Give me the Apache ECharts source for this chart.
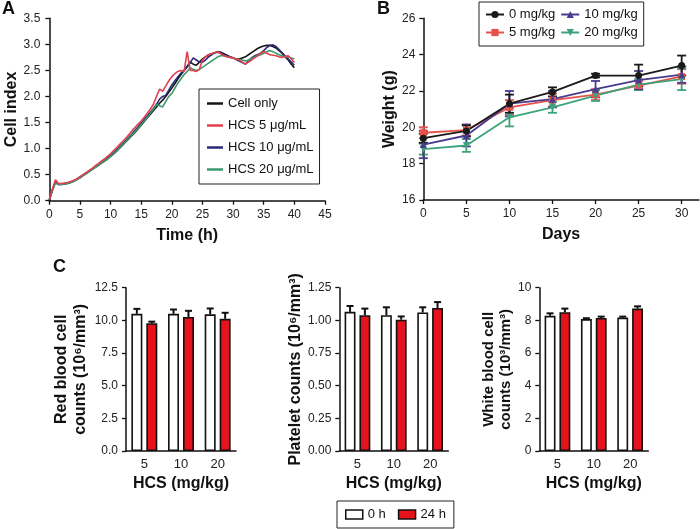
<!DOCTYPE html>
<html><head><meta charset="utf-8">
<script src="https://cdn.jsdelivr.net/npm/echarts@6/dist/echarts.min.js"></script>
<style>html,body{margin:0;padding:0;background:#fff}#c{width:700px;height:529px}</style>
</head><body><div id="c"></div>
<script>
// ---------- Panel A: cell index vs time ----------
const timeA = [0,0.5,1,1.5,2,2.5,3,3.5,4,4.5,5,5.5,6,6.5,7,7.5,8,8.5,9,9.5,10,10.5,11,11.5,12,12.5,13,13.5,14,14.5,15,15.5,16,16.5,17,17.5,18,18.5,19,19.5,20,20.5,21,21.5,22,22.5,23,23.5,24,24.5,25,25.5,26,26.5,27,27.5,28,28.5,29,29.5,30,30.5,31,31.5,32,32.5,33,33.5,34,34.5,35,35.5,36,36.5,37,37.5,38,38.5,39,39.5,40];
const cellOnly = [0.02,0.2,0.36,0.32,0.32,0.33,0.34,0.36,0.38,0.41,
0.44,0.48,0.52,0.56,0.6,0.64,0.68,0.72,0.76,0.8,
0.85,0.9,0.95,1.01,1.07,1.13,1.19,1.25,1.31,1.38,
1.45,1.52,1.59,1.66,1.73,1.8,1.87,1.93,2.0,2.08,
2.16,2.25,2.34,2.42,2.5,2.58,2.66,2.62,2.6,2.66,
2.72,2.76,2.8,2.82,2.84,2.86,2.85,2.82,2.79,2.76,
2.74,2.72,2.72,2.74,2.76,2.8,2.84,2.88,2.92,2.95,
2.97,2.98,2.98,2.96,2.93,2.88,2.83,2.76,2.7,2.62,
2.55];
const hcs5 = [0.02,0.22,0.4,0.33,0.33,0.34,0.35,0.37,0.39,0.42,
0.46,0.5,0.54,0.58,0.62,0.67,0.71,0.76,0.8,0.85,
0.9,0.96,1.02,1.08,1.14,1.2,1.27,1.34,1.41,1.47,
1.53,1.6,1.68,1.76,1.85,2.0,2.14,2.1,2.2,2.3,
2.38,2.44,2.48,2.5,2.48,2.86,2.5,2.5,2.48,2.52,
2.7,2.76,2.8,2.82,2.84,2.86,2.82,2.78,2.76,2.75,
2.74,2.72,2.7,2.66,2.62,2.66,2.7,2.74,2.78,2.83,
2.86,2.83,2.8,2.79,2.78,2.76,2.75,2.77,2.78,2.72,
2.65];
const hcs10 = [0.02,0.2,0.36,0.31,0.31,0.32,0.33,0.35,0.38,0.41,
0.45,0.49,0.53,0.57,0.61,0.65,0.69,0.73,0.77,0.82,
0.87,0.92,0.98,1.04,1.1,1.16,1.22,1.28,1.35,1.42,
1.49,1.56,1.63,1.7,1.77,1.85,1.95,2.0,2.02,2.12,
2.22,2.3,2.38,2.45,2.5,2.56,2.65,2.74,2.7,2.66,
2.66,2.7,2.76,2.8,2.84,2.85,2.83,2.8,2.78,2.76,
2.74,2.71,2.68,2.65,2.62,2.68,2.74,2.78,2.8,2.83,
2.88,2.94,2.98,2.99,2.96,2.9,2.84,2.78,2.72,2.66,
2.6];
const hcs20 = [0.02,0.2,0.34,0.31,0.31,0.32,0.33,0.35,0.37,0.4,
0.44,0.48,0.52,0.56,0.6,0.64,0.68,0.72,0.76,0.8,
0.85,0.9,0.96,1.02,1.08,1.14,1.2,1.26,1.32,1.39,
1.46,1.53,1.6,1.68,1.76,1.84,1.82,1.8,1.9,2.0,
2.06,2.16,2.26,2.34,2.42,2.48,2.55,2.52,2.5,2.52,
2.56,2.6,2.64,2.68,2.72,2.76,2.78,2.78,2.76,2.75,
2.74,2.72,2.71,2.7,2.68,2.7,2.73,2.76,2.78,2.8,
2.83,2.86,2.88,2.86,2.83,2.8,2.78,2.76,2.76,2.74,
2.72];
const namesA = ['Cell only','HCS 5 μg/mL','HCS 10 μg/mL','HCS 20 μg/mL'];

// ---------- Panel B: body weight ----------
const daysB = [0,5,10,15,20,25,30];
const w0 = [19.4,19.8,21.3,21.95,22.85,22.85,23.4];
const w0Err = [0.25,0.3,0.5,0.25,0.1,0.6,0.55];
const w5 = [19.7,19.85,21.1,21.5,21.8,22.3,22.8];
const w5Err = [0.3,0.3,0.4,0.35,0.3,0.25,0.4];
const w10 = [19.05,19.55,21.3,21.55,22.1,22.6,22.9];
const w10Err = [0.75,0.6,0.7,0.45,0.45,0.5,0.45];
const w20 = [18.8,19.0,20.55,21.1,21.75,22.35,22.65];
const w20Err = [0.3,0.35,0.5,0.3,0.3,0.3,0.6];
const namesB = ['0 mg/kg','5 mg/kg','10 mg/kg','20 mg/kg'];
const ticksB_x = [0,5,10,15,20,25,30];

// ---------- Panel C: blood counts ----------
const dosesC = ['5','10','20'];
const rbc0 = [10.5,10.5,10.46];   const rbc0Err = [0.38,0.33,0.45];
const rbc24 = [9.78,10.26,10.12]; const rbc24Err = [0.12,0.47,0.46];
const plt0 = [1.065,1.04,1.06];   const plt0Err = [0.045,0.06,0.04];
const plt24 = [1.04,1.005,1.095]; const plt24Err = [0.05,0.025,0.045];
const wbc0 = [8.28,8.08,8.17];    const wbc0Err = [0.15,0.05,0.06];
const wbc24 = [8.5,8.15,8.72];    const wbc24Err = [0.22,0.08,0.14];
const namesC = ['0 h','24 h'];

const FONT = '"Liberation Sans", Arial, Helvetica, sans-serif';
const INK = '#111';
const colA = ['#151515','#e2404e','#2c2a78','#3c9a6c'];
const colB = ['#1a1a1a','#e8524a','#4a3b8f','#3ea37a'];
const RED = '#e8121c';

function axisBase(extra){
  return Object.assign({
    axisLine:{show:true,onZero:false,lineStyle:{color:INK,width:1.5}},
    axisTick:{show:true,inside:false,length:4,lineStyle:{color:INK,width:1.3}},
    axisLabel:{color:'#222',fontSize:12,fontFamily:FONT,margin:8},
    splitLine:{show:false},
    nameTextStyle:{color:INK,fontSize:16,fontWeight:'bold',fontFamily:FONT},
    nameLocation:'middle'
  }, extra);
}

const series = [];
// Panel A lines (draw red last so it sits on top)
[[0,cellOnly],[2,hcs10],[3,hcs20],[1,hcs5]].forEach(([k,arr])=>{
  series.push({type:'line', name:namesA[k], xAxisIndex:0, yAxisIndex:0,
    data: timeA.map((t,i)=>[t,arr[i]]), symbol:'none', smooth:false,
    lineStyle:{color:colA[k],width:1.6}, itemStyle:{color:colA[k]}, z:3});
});

// Panel B lines + error bars
const bSets = [[1,w5,w5Err,'rect',0],[3,w20,w20Err,'triangle',180],[2,w10,w10Err,'triangle',0],[0,w0,w0Err,'circle',0]];
bSets.forEach(([k,vals,errs,sym,rot])=>{
  series.push({type:'custom', name:'err'+k, xAxisIndex:1, yAxisIndex:1,
    data: daysB.map((d,i)=>[d,vals[i],errs[i]]), encode:{x:0,y:1}, z:3,
    renderItem:(params,api)=>{
      const x=api.value(0), v=api.value(1), e=api.value(2);
      const pt=api.coord([x,v+e]), pb=api.coord([x,v-e]);
      const cx=pt[0], c=4.5, st={stroke:colB[k],lineWidth:1.8};
      return {type:'group',children:[
        {type:'line',shape:{x1:cx,y1:pt[1],x2:cx,y2:pb[1]},style:st},
        {type:'line',shape:{x1:cx-c,y1:pt[1],x2:cx+c,y2:pt[1]},style:st},
        {type:'line',shape:{x1:cx-c,y1:pb[1],x2:cx+c,y2:pb[1]},style:st}
      ]};
    }});
  series.push({type:'line', name:namesB[k], xAxisIndex:1, yAxisIndex:1,
    data: daysB.map((d,i)=>[d,vals[i]]), symbol:sym, symbolRotate:rot, symbolSize:7,
    lineStyle:{color:colB[k],width:1.8}, itemStyle:{color:colB[k]}, z:4});
});

// Panel C bars + error bars
const cSets = [[2,rbc0,rbc0Err,rbc24,rbc24Err],[3,plt0,plt0Err,plt24,plt24Err],[4,wbc0,wbc0Err,wbc24,wbc24Err]];
function errBar(ax, vals, errs, side){
  return {type:'custom', name:'cerr', xAxisIndex:ax, yAxisIndex:ax, z:5,
    data: vals.map((v,i)=>[i,v,errs[i]]), encode:{x:0,y:1},
    renderItem:(params,api)=>{
      const ci=api.value(0), v=api.value(1), e=api.value(2);
      const band=api.size([1,0])[0];
      const p0=api.coord([ci,v]), p1=api.coord([ci,v+e]);
      const x=p0[0]+side*band*0.204, c=3.5;
      return {type:'group',children:[
        {type:'line',shape:{x1:x,y1:p0[1],x2:x,y2:p1[1]},style:{stroke:INK,lineWidth:2}},
        {type:'line',shape:{x1:x-c,y1:p1[1],x2:x+c,y2:p1[1]},style:{stroke:INK,lineWidth:2}}
      ]};
    }};
}
cSets.forEach(([ax,a,ae,b,be])=>{
  series.push({type:'bar', name:namesC[0], xAxisIndex:ax, yAxisIndex:ax, data:a,
    barWidth:'30%', barGap:'36%', itemStyle:{color:'#fff',borderColor:INK,borderWidth:1.6}});
  series.push({type:'bar', name:namesC[1], xAxisIndex:ax, yAxisIndex:ax, data:b,
    barWidth:'30%', barGap:'36%', itemStyle:{color:RED,borderColor:INK,borderWidth:1.6}});
  series.push(errBar(ax,a,ae,-1));
  series.push(errBar(ax,b,be,1));
});

const catAxis = (gi, name)=>axisBase({type:'category', gridIndex:gi, data:dosesC, name:name, nameGap:25,
  axisTick:{show:false}, axisLabel:{color:'#222',fontSize:13,fontFamily:FONT,margin:7}});

const option = {
  animation:false,
  backgroundColor:'#fff',
  grid:[
    {left:49.3, top:18.3, width:275.7, height:182.4, outerBoundsMode:'none'},
    {left:423.3, top:18.3, width:275.6, height:181.7, outerBoundsMode:'none'},
    {left:126, top:287.7, width:110, height:163.3, outerBoundsMode:'none'},
    {left:339.3, top:287.7, width:109, height:163.3, outerBoundsMode:'none'},
    {left:539.3, top:287.7, width:109, height:163.3, outerBoundsMode:'none'}
  ],
  xAxis:[
    axisBase({type:'value', gridIndex:0, min:0, max:45, interval:5, name:'Time (h)', nameGap:27}),
    axisBase({type:'value', gridIndex:1, min:0, max:32, name:'Days', nameGap:27,
      axisTick:{show:true,length:4,customValues:ticksB_x,lineStyle:{color:INK,width:1.3}},
      axisLabel:{color:'#222',fontSize:12,fontFamily:FONT,margin:8,customValues:ticksB_x}}),
    catAxis(2,'HCS (mg/kg)'), catAxis(3,'HCS (mg/kg)'), catAxis(4,'HCS (mg/kg)')
  ],
  yAxis:[
    axisBase({type:'value', gridIndex:0, min:0, max:3.5, interval:0.5, name:'Cell index', nameGap:30,
      axisLabel:{color:'#222',fontSize:12,fontFamily:FONT,margin:9,formatter:v=>v.toFixed(1)}}),
    axisBase({type:'value', gridIndex:1, min:16, max:26, interval:2, name:'Weight (g)', nameGap:26}),
    axisBase({type:'value', gridIndex:2, min:0, max:12.5, interval:2.5, name:'Red blood cell\ncounts (10⁶/mm³)', nameGap:36,
      nameTextStyle:{color:INK,fontSize:16,fontWeight:'bold',fontFamily:FONT,lineHeight:19},
      axisLabel:{color:'#222',fontSize:12,fontFamily:FONT,margin:8,formatter:v=>v.toFixed(1)}}),
    axisBase({type:'value', gridIndex:3, min:0, max:1.25, interval:0.25, name:'Platelet counts (10⁶/mm³)', nameGap:36,
      axisLabel:{color:'#222',fontSize:12,fontFamily:FONT,margin:8,formatter:v=>v.toFixed(2)}}),
    axisBase({type:'value', gridIndex:4, min:0, max:10, interval:2, name:'White blood cell\ncounts (10³/mm³)', nameGap:23,
      nameTextStyle:{color:INK,fontSize:15,fontWeight:'bold',fontFamily:FONT,lineHeight:17}})
  ],
  legend:[
    {data:namesA, orient:'vertical', left:199, top:89, padding:[8,6,8,8], itemGap:9,
      icon:'rect', itemWidth:16, itemHeight:2.5, borderColor:'#222', borderWidth:1,
      textStyle:{fontSize:13,fontFamily:FONT,color:INK}},
    {data:['0 mg/kg','10 mg/kg','5 mg/kg','20 mg/kg'], orient:'horizontal', left:479, top:2, width:160,
      padding:[6,6,7,6], itemGap:5, itemWidth:18, itemHeight:9, borderColor:'#222', borderWidth:1,
      textStyle:{fontSize:13,fontFamily:FONT,color:INK,width:52}},
    {data:namesC, orient:'horizontal', left:337, top:501, padding:[7,8,7,8], itemGap:12,
      icon:'rect', itemWidth:17, itemHeight:9, borderColor:'#222', borderWidth:1,
      itemStyle:{borderColor:INK,borderWidth:1.5},
      textStyle:{fontSize:13,fontFamily:FONT,color:INK}}
  ],
  graphic:[
    {type:'text', left:2, top:0, style:{text:'A', font:'bold 18px '+FONT, fill:INK}},
    {type:'text', left:377, top:0, style:{text:'B', font:'bold 18px '+FONT, fill:INK}},
    {type:'text', left:53, top:258, style:{text:'C', font:'bold 18px '+FONT, fill:INK}}
  ],
  series: series
};
const chart = echarts.init(document.getElementById('c'), null, {renderer:'canvas'});
chart.setOption(option);
</script>
</body></html>
